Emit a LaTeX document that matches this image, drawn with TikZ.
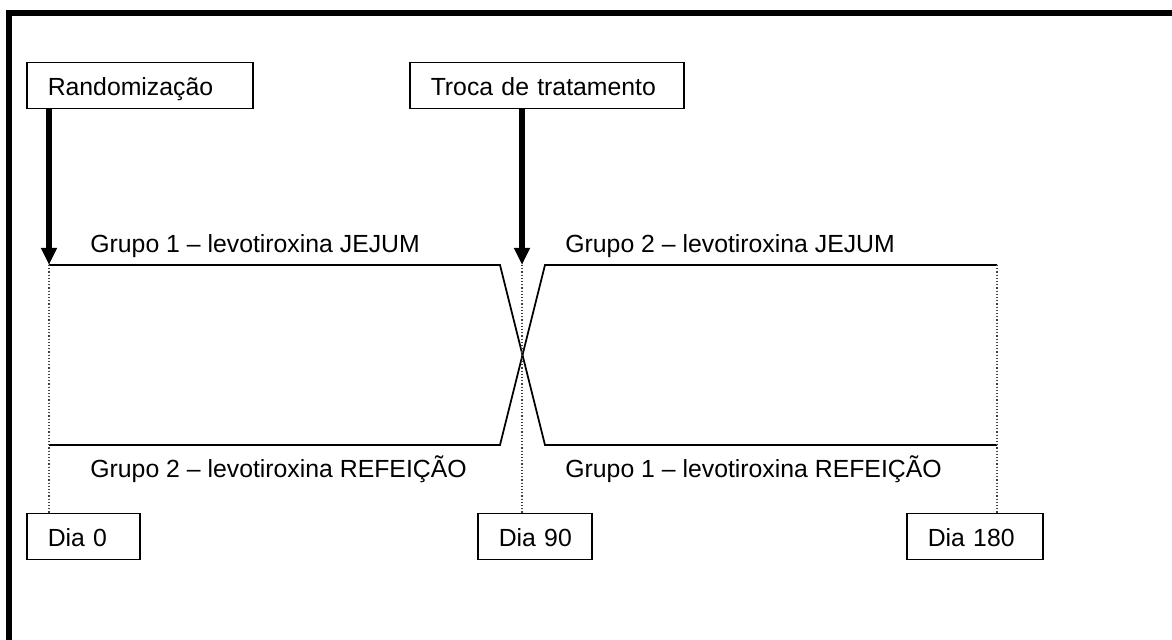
\documentclass[tikz,border=0pt]{standalone}
\usepackage{fontspec}
\setmainfont{Liberation Sans}
\usetikzlibrary{arrows.meta,positioning}

\begin{document}
\begin{tikzpicture}[
  x=0.5pt, y=-0.5pt,
  every node/.style={font=\fontsize{12.4}{14.8}\selectfont},
  box/.style={draw=black, line width=0.75pt, anchor=north west, minimum height=23pt,
              inner xsep=10.5pt, inner ysep=0pt, text height=11pt, text depth=1pt, align=left},
  grp/.style={anchor=base west, inner sep=0pt},
  arm/.style={line width=0.9pt, line join=miter},
  guide/.style={densely dotted, line width=0.6pt, black!75},
  marker/.style={-{Triangle[length=8.5pt,width=7.5pt]}, line width=2.6pt},
]
  \useasboundingbox (0,0) rectangle (1172,640);
  % frame
  \draw[line width=3pt] (9,640) -- (9,13) -- (1172,13);

  % time points
  \coordinate (t0) at (49,265);
  \coordinate (t90) at (522,265);
  \coordinate (t180) at (997,265);

  \node[box, text width=92pt] (rand) at (26,62) {Randomização};
  \node[box, text width=116pt] (swap) at (409,62) {Troca de tratamento};
  \node[box, text width=35.5pt] (dia0) at (26,513) {Dia 0};
  \node[box, text width=36pt] (dia90) at (477,513) {Dia~90};
  \node[box, text width=47pt] (dia180) at (906,513) {Dia 180};

  % arms
  \draw[arm] (t0) -- (500,265) -- (545,445) -- (997,445);
  \draw[arm] (t0 |- 0,445) -- (500,445) -- (545,265) -- (t180);

  \node[grp] (g1jejum) at (90,253) {Grupo 1 -- levotiroxina JEJUM};
  \node[grp] (g2refeicao) at (90,478) {Grupo 2 -- levotiroxina REFEIÇÃO};
  \node[grp] (g2jejum) at (565,253) {Grupo 2 -- levotiroxina JEJUM};
  \node[grp] (g1refeicao) at (565,478) {Grupo 1 -- levotiroxina REFEIÇÃO};

  % guides
  \draw[guide] (t0) -- (t0 |- dia0.north);
  \draw[guide] (t90) -- (t90 |- dia90.north);
  \draw[guide] (t180) -- (t180 |- dia180.north);

  % events
  \draw[marker] (rand.south -| t0) -- (t0);
  \draw[marker] (swap.south -| t90) -- (t90);
\end{tikzpicture}
\end{document}
